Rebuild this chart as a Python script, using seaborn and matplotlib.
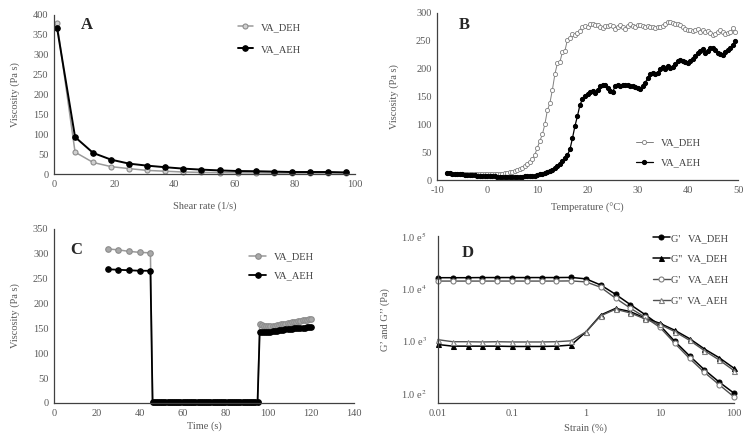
import matplotlib
matplotlib.use('Agg')
import matplotlib.pyplot as plt
import seaborn as sns
from matplotlib.ticker import FixedLocator, NullLocator

# ---- данные: A (вязкость от скорости сдвига)
shear = [1, 7, 13, 19, 25, 31, 37, 43, 49, 55, 61, 67, 73, 79, 85, 91, 97]
a_deh = [380, 55, 29, 18.5, 13.5, 9, 7, 5, 4, 3.5, 3, 3, 2.5, 2.5, 2.5, 2.5, 2.5]
a_aeh = [368, 93, 53, 36, 26, 21, 17, 13.5, 11, 9, 7.5, 7, 6, 5, 5, 5, 4]

# ---- B (вязкость от температуры)
temp = [-8, -7.5, -7, -6.5, -6, -5.5, -5, -4.5, -4, -3.5,
        -3, -2.5, -2, -1.5, -1, -0.5, 0, 0.5, 1, 1.5,
        2, 2.5, 3, 3.5, 4, 4.5, 5, 5.5, 6, 6.5,
        7, 7.5, 8, 8.5, 9, 9.5, 10, 10.5, 11, 11.5,
        12, 12.5, 13, 13.5, 14, 14.5, 15, 15.5, 16, 16.5,
        17, 17.5, 18, 18.5, 19, 19.5, 20, 20.5, 21, 21.5,
        22, 22.5, 23, 23.5, 24, 24.5, 25, 25.5, 26, 26.5,
        27, 27.5, 28, 28.5, 29, 29.5, 30, 30.5, 31, 31.5,
        32, 32.5, 33, 33.5, 34, 34.5, 35, 35.5, 36, 36.5,
        37, 37.5, 38, 38.5, 39, 39.5, 40, 40.5, 41, 41.5,
        42, 42.5, 43, 43.5, 44, 44.5, 45, 45.5, 46, 46.5,
        47, 47.5, 48, 48.5, 49, 49.5]
b_deh = [12, 12, 11.5, 11, 11, 11, 11, 10.5, 10.5, 10,
         10, 10, 10, 10, 10, 10, 10, 10, 10, 10.5,
         11, 11, 11.5, 12, 13, 14, 15, 16, 18, 20,
         22, 25, 28, 32, 38, 45, 58, 70, 82, 100,
         125, 138, 162, 190, 210, 212, 230, 232, 252, 255,
         262, 260, 264, 268, 274, 276, 275, 280, 281, 278,
         279, 275, 273, 276, 277, 279, 276, 272, 275, 279,
         274, 272, 276, 280, 277, 275, 278, 278, 276, 275,
         276, 274, 275, 273, 275, 274, 276, 281, 283, 283,
         282, 280, 281, 279, 274, 271, 270, 269, 268, 270,
         272, 266, 270, 265, 268, 264, 261, 263, 266, 270,
         265, 262, 264, 266, 273, 266]
b_aeh = [12, 12, 11, 11, 10.5, 10, 10, 9.5, 9, 9,
         8.5, 8.5, 8, 8, 7.5, 7.5, 7, 7, 6.5, 6.5,
         6, 6, 6, 6, 6, 6, 6, 6, 6, 6,
         6, 6.5, 7, 7, 7.5, 8, 9, 10, 11, 12,
         14, 16, 18, 21, 25, 29, 34, 40, 45, 55,
         75, 97, 115, 135, 145, 150, 155, 158, 160, 157,
         162, 168, 171, 170, 165, 160, 158, 168, 170, 168,
         171, 170, 171, 169, 168, 167, 165, 163, 168, 175,
         183, 190, 192, 191, 193, 200, 203, 200, 205, 201,
         203, 208, 214, 216, 214, 212, 210, 214, 218, 222,
         228, 231, 236, 228, 232, 237, 238, 233, 229, 226,
         225, 230, 234, 237, 242, 249]

# ---- C (вязкость от времени)
time_s = [25, 30, 35, 40, 45,
          46, 47, 48, 49, 50, 51, 52, 53, 54, 55, 56, 57, 58, 59, 60,
          61, 62, 63, 64, 65, 66, 67, 68, 69, 70, 71, 72, 73, 74, 75,
          76, 77, 78, 79, 80, 81, 82, 83, 84, 85, 86, 87, 88, 89, 90,
          91, 92, 93, 94, 95,
          96, 97, 98, 99, 100, 101, 102, 103, 104, 105, 106, 107, 108,
          109, 110, 111, 112, 113, 114, 115, 116, 117, 118, 119, 120]
c_deh = [310, 308, 305, 303, 302,
         3, 3, 3, 3, 3, 3, 3, 3, 3, 3, 3, 3, 3, 3, 3,
         3, 3, 3, 3, 3, 3, 3, 3, 3, 3, 3, 3, 3, 3, 3,
         3, 3, 3, 3, 3, 3, 3, 3, 3, 3, 3, 3, 3, 3, 3,
         3, 3, 3, 3, 3,
         158, 156, 155, 154, 154, 154, 155, 155, 156, 157, 158, 158, 159,
         160, 161, 162, 163, 163, 164, 165, 166, 166, 167, 168, 168]
c_aeh = [269, 268, 267, 266, 266,
         3, 3, 3, 3, 3, 3, 3, 3, 3, 3, 3, 3, 3, 3, 3,
         3, 3, 3, 3, 3, 3, 3, 3, 3, 3, 3, 3, 3, 3, 3,
         3, 3, 3, 3, 3, 3, 3, 3, 3, 3, 3, 3, 3, 3, 3,
         3, 3, 3, 3, 3,
         143, 143, 143, 143, 143, 143, 144, 144, 145, 146, 147, 147, 148,
         148, 149, 149, 150, 150, 150, 151, 151, 151, 152, 152, 152]

# ---- D (амплитудная развертка)
strain = [0.01, 0.0158, 0.0251, 0.0398, 0.0631, 0.1, 0.158, 0.251, 0.398, 0.631,
          1, 1.58, 2.51, 3.98, 6.31, 10, 15.8, 25.1, 39.8, 63.1, 100]
g1_deh = [16000, 16000, 16000, 16100, 16100, 16100, 16100, 16100, 16100, 16200,
          15200, 11600, 7700, 4900, 3150, 1960, 980, 515, 280, 163, 100]
g2_deh = [850, 790, 790, 790, 790, 780, 780, 780, 790, 830,
          1480, 3100, 4150, 3600, 2700, 2150, 1590, 1100, 700, 475, 300]
g1_aeh = [13800, 13800, 13800, 13800, 13800, 13800, 13800, 13800, 13800, 13900,
          13300, 10500, 6500, 4200, 2800, 1800, 900, 460, 250, 145, 85]
g2_aeh = [1050, 960, 960, 950, 960, 950, 950, 950, 960, 1000,
          1480, 3000, 4000, 3400, 2600, 2050, 1500, 1020, 650, 430, 270]

sns.set_style('white')
plt.rcParams['font.family'] = ['Liberation Serif', 'DejaVu Serif']
plt.rcParams['mathtext.fontset'] = 'stix'
plt.rcParams['axes.unicode_minus'] = False

GRAY = '#9a9a9a'
TXT = '#595959'
SPINE = '#404040'
FS = 7.5

fig = plt.figure(figsize=(7.49, 4.37), dpi=100)
W, H = 749, 437


def make_ax(x0, x1, ytop, ybot):
    ax = fig.add_axes([x0 / W, 1 - ybot / H, (x1 - x0) / W, (ybot - ytop) / H])
    for s in ['top', 'right']:
        ax.spines[s].set_visible(False)
    for s in ['left', 'bottom']:
        ax.spines[s].set_color(SPINE)
        ax.spines[s].set_linewidth(0.9)
    ax.tick_params(which='both', length=0, labelsize=FS, colors=TXT, pad=4)
    return ax


def style_legend(ax, **kw):
    opts = dict(frameon=False, fontsize=FS, handlelength=1.6, handletextpad=0.8)
    opts.update(kw)
    leg = ax.legend(**opts)
    for t in leg.get_texts():
        t.set_color('#404040')
    return leg


# ---------------- A
axA = make_ax(54, 355, 15, 174)
sns.lineplot(x=shear, y=a_deh, ax=axA, color=GRAY, lw=1.1, marker='o', ms=3.6,
             mfc='#d0d0d0', mec='#8c8c8c', mew=0.8, label='VA_DEH', clip_on=False)
sns.lineplot(x=shear, y=a_aeh, ax=axA, color='black', lw=1.4, marker='o', ms=4,
             mfc='black', mec='black', label='VA_AEH', clip_on=False)
axA.set_xlim(0, 100)
axA.set_ylim(0, 400)
axA.set_xticks(range(0, 101, 20))
axA.set_yticks(range(0, 401, 50))
axA.set_xlabel('Shear rate (1/s)', fontsize=FS, color=TXT, labelpad=9)
axA.set_ylabel('Viscosity (Pa s)', fontsize=FS, color=TXT, labelpad=9)
style_legend(axA, loc='upper left', bbox_to_anchor=(0.58, 1.01), labelspacing=1.2,
             handlelength=1.4)
axA.text(0.11, 0.94, 'A', transform=axA.transAxes, fontsize=12, fontweight='bold',
         ha='center', va='center')

# ---------------- B
axB = make_ax(437, 738, 13, 180)
sns.lineplot(x=temp, y=b_deh, ax=axB, color='#808080', lw=0.7, marker='o', ms=3.0,
             mfc='white', mec='#808080', mew=0.6, label='VA_DEH', clip_on=False)
sns.lineplot(x=temp, y=b_aeh, ax=axB, color='black', lw=0.9, marker='o', ms=3.0,
             mfc='black', mec='black', label='VA_AEH', clip_on=False)
axB.set_xlim(-10, 50)
axB.set_ylim(0, 300)
axB.set_xticks(range(-10, 51, 10))
axB.set_yticks(range(0, 301, 50))
axB.set_xlabel('Temperature (°C)', fontsize=FS, color=TXT, labelpad=6)
axB.set_ylabel('Viscosity (Pa s)', fontsize=FS, color=TXT, labelpad=12)
style_legend(axB, loc='lower left', bbox_to_anchor=(0.63, 0.02), labelspacing=1.0)
axB.text(0.09, 0.93, 'B', transform=axB.transAxes, fontsize=12, fontweight='bold',
         ha='center', va='center')

# ---------------- C
axC = make_ax(54, 354, 229, 403)
sns.lineplot(x=time_s, y=c_deh, ax=axC, color=GRAY, lw=1.1, marker='o', ms=4.0,
             mfc='#a8a8a8', mec='#8c8c8c', mew=0.8, label='VA_DEH', clip_on=False)
sns.lineplot(x=time_s, y=c_aeh, ax=axC, color='black', lw=1.3, marker='o', ms=4.0,
             mfc='black', mec='black', label='VA_AEH', clip_on=False)
axC.set_xlim(0, 140)
axC.set_ylim(0, 350)
axC.set_xticks(range(0, 141, 20))
axC.set_yticks(range(0, 351, 50))
axC.set_xlabel('Time (s)', fontsize=FS, color=TXT, labelpad=3)
axC.set_ylabel('Viscosity (Pa s)', fontsize=FS, color=TXT, labelpad=9)
style_legend(axC, loc='upper left', bbox_to_anchor=(0.62, 0.92), labelspacing=0.9)
axC.text(0.075, 0.88, 'C', transform=axC.transAxes, fontsize=12, fontweight='bold',
         ha='center', va='center')

# ---------------- D
axD = make_ax(438, 734, 236, 403)
sns.lineplot(x=strain, y=g1_deh, ax=axD, color='black', lw=1.1, marker='o', ms=3.6,
             mfc='black', mec='black', label="G'   VA_DEH", clip_on=False)
sns.lineplot(x=strain, y=g2_deh, ax=axD, color='black', lw=1.1, marker='^', ms=3.6,
             mfc='black', mec='black', label="G''  VA_DEH", clip_on=False)
sns.lineplot(x=strain, y=g1_aeh, ax=axD, color='#505050', lw=1.0, marker='o', ms=3.6,
             mfc='white', mec='#808080', mew=0.8, label="G'   VA_AEH", clip_on=False)
sns.lineplot(x=strain, y=g2_aeh, ax=axD, color='#505050', lw=1.0, marker='^', ms=3.6,
             mfc='white', mec='#808080', mew=0.8, label="G''  VA_AEH", clip_on=False)
axD.set_xscale('log')
axD.set_yscale('log')
axD.set_xlim(0.01, 100)
axD.set_ylim(65, 100000)
axD.xaxis.set_major_locator(FixedLocator([0.01, 0.1, 1, 10, 100]))
axD.xaxis.set_minor_locator(NullLocator())
axD.set_xticklabels(['0.01', '0.1', '1', '10', '100'])
axD.yaxis.set_major_locator(FixedLocator([100, 1000, 10000, 100000]))
axD.yaxis.set_minor_locator(NullLocator())
axD.set_yticklabels(['1.0 e$^{2}$', '1.0 e$^{3}$', '1.0 e$^{4}$', '1.0 e$^{5}$'])
axD.tick_params(axis='y', pad=8)
axD.set_xlabel('Strain (%)', fontsize=FS, color=TXT, labelpad=4)
axD.set_ylabel('G’ and G’’ (Pa)', fontsize=FS, color=TXT, labelpad=8)
style_legend(axD, loc='upper left', bbox_to_anchor=(0.695, 1.07), labelspacing=1.1,
             handletextpad=0.1)
axD.text(0.1, 0.9, 'D', transform=axD.transAxes, fontsize=12, fontweight='bold',
         ha='center', va='center')

plt.savefig('out.png', dpi=100)
